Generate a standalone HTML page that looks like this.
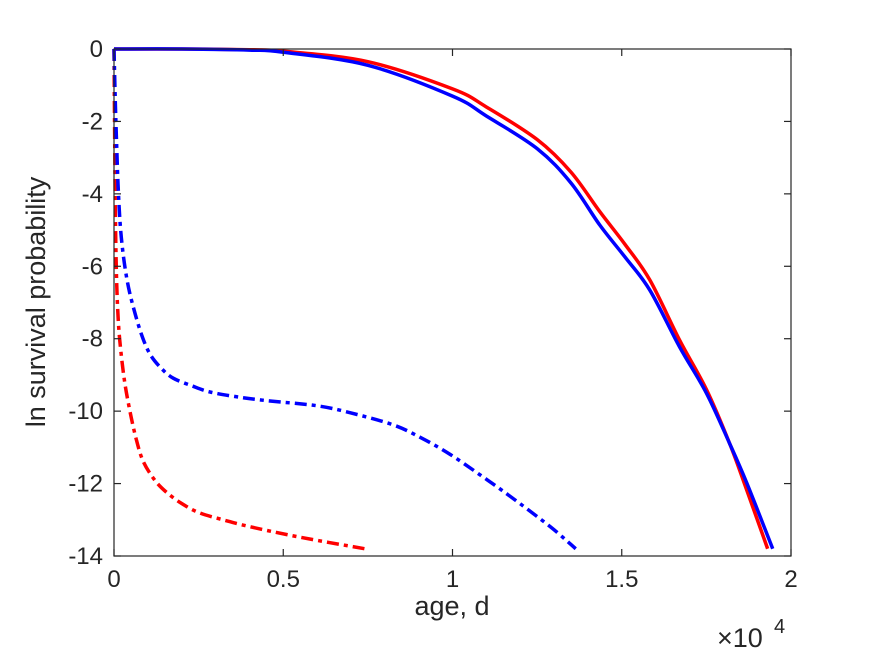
<!DOCTYPE html>
<html><head><meta charset="utf-8"><style>
body{margin:0;background:#fff;}
svg{display:block;font-family:"Liberation Sans",sans-serif;}
</style></head><body>
<svg id="chart" width="875" height="656" viewBox="0 0 875 656">
<rect width="875" height="656" fill="#fff"/>
<g id="plot"></g>
<g id="axes"></g>
</svg>
<script>
const xTicks=[0,0.5,1,1.5,2];
const xTickLabels=["0","0.5","1","1.5","2"];
const yTicks=[0,-2,-4,-6,-8,-10,-12,-14];
const yTickLabels=["0","-2","-4","-6","-8","-10","-12","-14"];
const redSolidX=[0,0.2,0.4,0.5,0.75,1,1.1,1.25,1.35,1.435,1.51,1.583,1.671,1.75,1.819,1.87,1.931];
const redSolidY=[0,0,-0.02,-0.06,-0.35,-1.1,-1.6,-2.5,-3.4,-4.49,-5.4,-6.38,-8.04,-9.4,-10.9,-12.2,-13.8];
const blueSolidX=[0,0.2,0.4,0.5,0.75,1,1.1,1.25,1.35,1.435,1.51,1.583,1.671,1.75,1.819,1.87,1.946];
const blueSolidY=[0,0,-0.03,-0.09,-0.45,-1.3,-1.85,-2.75,-3.7,-4.86,-5.75,-6.66,-8.23,-9.5,-10.9,-12.0,-13.8];
const redDashX=[0,0.002,0.004,0.007,0.011,0.017,0.03,0.046,0.065,0.086,0.12,0.155,0.2,0.253,0.33,0.401,0.549,0.747];
const redDashY=[0,-2.5,-4.5,-6.13,-7.2,-8.04,-9.1,-9.95,-10.75,-11.38,-11.9,-12.24,-12.55,-12.81,-13.02,-13.19,-13.48,-13.81];
const blueDashX=[0,0.004,0.008,0.012,0.018,0.027,0.04,0.056,0.08,0.106,0.14,0.175,0.23,0.283,0.36,0.451,0.599,0.7,0.825,0.91,0.994,1.08,1.17,1.29,1.364];
const blueDashY=[0,-1.5,-2.7,-3.75,-4.8,-5.66,-6.45,-7.09,-7.85,-8.42,-8.82,-9.09,-9.3,-9.47,-9.6,-9.71,-9.85,-10.05,-10.38,-10.75,-11.2,-11.75,-12.35,-13.2,-13.8];

const L=114,R=791,T=49,B=556;
const X=v=>L+(v-0)/(2-0)*(R-L);
const Y=v=>T+(0-v)/(0-(-14))*(B-T);
const NS="http://www.w3.org/2000/svg";
const plot=document.getElementById('plot'),axes=document.getElementById('axes');
function mk(tag,attrs,parent){const e=document.createElementNS(NS,tag);for(const k in attrs)e.setAttribute(k,attrs[k]);parent.appendChild(e);return e;}
function smooth(pts){
  let d='M'+pts[0][0].toFixed(2)+','+pts[0][1].toFixed(2);
  for(let i=0;i<pts.length-1;i++){
    const p0=pts[Math.max(0,i-1)],p1=pts[i],p2=pts[i+1],p3=pts[Math.min(pts.length-1,i+2)];
    const c1=[p1[0]+(p2[0]-p0[0])/6,p1[1]+(p2[1]-p0[1])/6];
    const c2=[p2[0]-(p3[0]-p1[0])/6,p2[1]-(p3[1]-p1[1])/6];
    d+=' C'+c1[0].toFixed(2)+','+c1[1].toFixed(2)+' '+c2[0].toFixed(2)+','+c2[1].toFixed(2)+' '+p2[0].toFixed(2)+','+p2[1].toFixed(2);
  }
  return d;
}
function line(xs,ys,color,dash,name){
  const pts=xs.map((x,i)=>[X(x),Y(ys[i])]);
  const p=mk('path',{d:smooth(pts),fill:'none',stroke:color,'stroke-width':3.5,'stroke-linejoin':'round'},plot);
  if(dash)p.setAttribute('stroke-dasharray',dash);
  
  
}
line(redDashX,redDashY,'#ff0000','12,5,4,5','red-dashdot-line');
line(blueDashX,blueDashY,'#0000ff','12,5,4,5','blue-dashdot-line');
line(redSolidX,redSolidY,'#ff0000',null,'red-solid-line');
line(blueSolidX,blueSolidY,'#0000ff',null,'blue-solid-line');

const box=mk('rect',{x:L,y:T,width:R-L,height:B-T,fill:'none',stroke:'#262626','stroke-width':1.2},axes);


xTicks.forEach((v,i)=>{
  const x=X(v);
  mk('line',{x1:x,x2:x,y1:B,y2:B-7,stroke:'#262626','stroke-width':1.2},axes);
  mk('line',{x1:x,x2:x,y1:T,y2:T+7,stroke:'#262626','stroke-width':1.2},axes);
  const t=mk('text',{x:x,y:B+31,'text-anchor':'middle','font-size':24,fill:'#262626'},axes);
  t.textContent=xTickLabels[i];
  
  
});
yTicks.forEach((v,i)=>{
  const y=Y(v);
  mk('line',{x1:L,x2:L+7,y1:y,y2:y,stroke:'#262626','stroke-width':1.2},axes);
  mk('line',{x1:R,x2:R-7,y1:y,y2:y,stroke:'#262626','stroke-width':1.2},axes);
  const t=mk('text',{x:L-11,y:y+8,'text-anchor':'end','font-size':24,fill:'#262626'},axes);
  t.textContent=yTickLabels[i];
  
  
});
const xl=mk('text',{x:452,y:615,'text-anchor':'middle','font-size':27,fill:'#262626'},axes);
xl.textContent='age, d';


const yl=mk('text',{x:0,y:0,'text-anchor':'middle','font-size':27,fill:'#262626',transform:'translate(45,302) rotate(-90)'},axes);
yl.textContent='ln survival probability';


const ex=mk('text',{x:717,y:647,'font-size':27,fill:'#262626'},axes);
ex.textContent='×10';


const ex2=mk('text',{x:774,y:633,'font-size':20,fill:'#262626'},axes);
ex2.textContent='4';


</script>
</body></html>
